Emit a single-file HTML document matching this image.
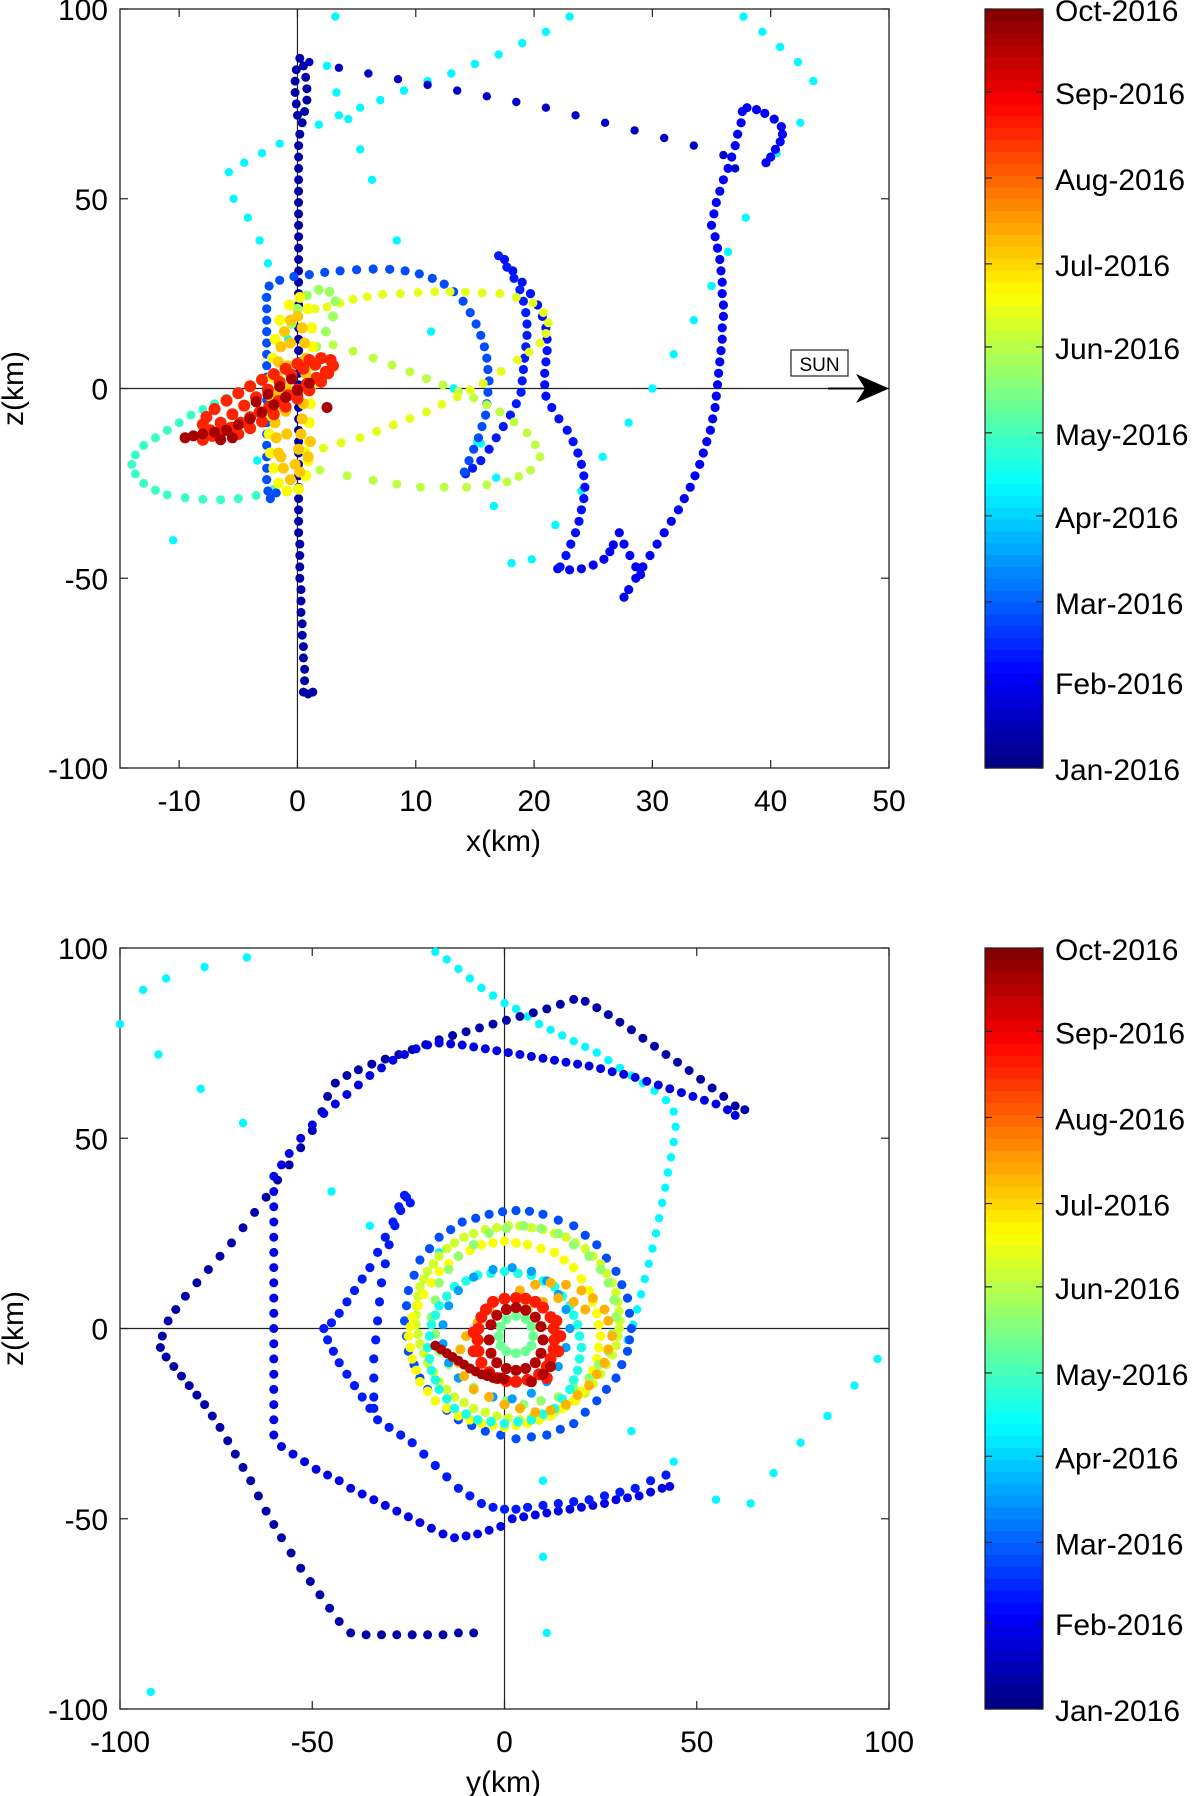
<!DOCTYPE html>
<html><head><meta charset="utf-8"><style>
body{margin:0;background:#fff;width:1200px;height:1796px;overflow:hidden}
svg{position:absolute;left:0;top:0}
text{font-family:"Liberation Sans",sans-serif;fill:#000}
</style></head><body>
<svg id="fig" width="1200" height="1796"></svg>
<script>
// ---------- data (km) ----------
const topNavyVertical=[[1.3,-80],[0.9,-80.5],[0.5,-80],[0.6,-77],[0.6,-74],[0.5,-71],[0.5,-68],[0.4,-65],[0.4,-62],[0.3,-59],[0.3,-56],[0.3,-53],[0.2,-50],[0.2,-47],[0.2,-44],[0.2,-41],[0.1,-38],[0.1,-35],[0.1,-32],[0.1,-29],[0.1,-26],[0.1,-23],[0.1,-20],[0.1,-17],[0.1,-14],[0.1,-11],[0.1,-8],[0.1,-5],[0.1,-2],[0.1,1],[0.1,4],[0.1,7],[0.1,10],[0.1,13],[0.1,16],[0.1,19],[0.1,22],[0.1,25],[0.1,28],[0.1,31],[0.1,34],[0.1,37],[0.1,40],[0.1,43],[0.1,46],[0.1,49],[0.1,52],[0.1,55],[0.1,58],[0.1,61],[0.1,64],[0.2,67],[0.4,70],[0.6,73],[0.8,76],[0.8,79],[0.7,82],[0.5,85],[0.2,87],[-0.1,84],[-0.2,81],[-0.2,78],[-0.1,75],[0,72]];
const topNavySparse=[[1,86],[3.5,84.5],[6,83],[8.5,81.5],[11,80],[13.5,78.5],[16,77],[18.5,75.5],[21,74],[23.5,72],[26,70],[28.5,68],[31,66],[33.5,64],[36,61.5],[37,58]];
const topBlueRight=[[38,74],[38.8,73.5],[39.5,72.5],[40.3,71],[40.9,69],[41,67],[40.8,65],[40.4,63],[40,61],[39.6,59.5],[37.6,73],[37.5,70],[37.2,67],[37,64],[36.7,61],[36.4,58],[36,55],[35.7,52],[35.4,49],[35.2,46],[35,43],[35.3,40],[35.5,37],[35.7,34],[35.8,31],[35.9,28],[35.9,25],[36,22],[36,19],[35.9,16],[35.9,13],[35.8,10],[35.7,7],[35.6,4],[35.5,1],[35.4,-2],[35.3,-5],[35.1,-8],[34.9,-11],[34.6,-14],[34.3,-17],[34,-20],[33.6,-23],[33.2,-26],[32.7,-29],[32.2,-32],[31.6,-35],[31,-38],[30.4,-41],[29.8,-44],[29.2,-47],[28.6,-50],[28,-53],[27.6,-55],[27.2,-38],[27.6,-41],[28.1,-44],[28.6,-47],[29,-49]];
const topBlueHook=[[22,-47.5],[23,-47.8],[24,-47.5],[25,-46.5],[25.9,-45],[26.4,-43],[26.7,-41.2]];
const topBlueStrandR=[[17.5,34],[18.2,31],[19,28],[19.7,25],[20.3,22],[20.7,19],[21,16],[21.1,13],[21.1,10],[21,7],[20.9,4],[20.9,1],[21,-2],[21.5,-5],[22.1,-8],[22.8,-11],[23.3,-14],[23.7,-17],[24,-20],[24.2,-23],[24.3,-26],[24.2,-29],[24,-32],[23.8,-35],[23.5,-38],[23.1,-41],[22.7,-44],[22.2,-47]];
const topBlueStrandL=[[17,35],[17.7,32],[18.3,29],[18.8,26],[19.1,23],[19.3,20],[19.4,17],[19.4,14],[19.3,11],[19.2,8],[19.1,5],[19,2],[18.9,-1],[18.5,-4],[18,-7],[17.4,-10],[16.8,-13],[16.2,-16],[15.5,-19],[14.8,-21],[14.2,-22.5]];
const topBlueArc=[[-2.5,-27],[-2.6,-24],[-2.6,-21],[-2.6,-18],[-2.6,-15],[-2.6,-12],[-2.6,-9],[-2.6,-6],[-2.6,-3],[-2.6,0],[-2.6,3],[-2.6,6],[-2.6,9],[-2.6,12],[-2.6,15],[-2.6,18],[-2.6,21],[-2.6,24],[-2.4,27],[-1.5,28.5],[-0.3,29.5],[1,30],[2.3,30.6],[3.6,31],[5,31.3],[6.4,31.5],[7.8,31.4],[9.1,31],[10.3,30.2],[11.4,29],[12.4,27.5],[13.2,25.5],[14,23],[14.6,20],[15.1,17],[15.5,14],[15.8,11],[16,8],[16.1,5],[16.2,2],[16.1,-1],[16,-4],[15.9,-7],[15.6,-10],[15.3,-13],[14.9,-16],[14.5,-19],[14.1,-22],[-2.3,-29],[-1.8,-27.5]];
const topYellowUpper=[[1.5,21],[2.5,21.5],[3.6,22.5],[4.7,23.5],[5.9,24.2],[7.2,24.8],[8.7,25],[10.2,25.3],[11.6,25.5],[12.9,25.5],[14.2,25.4],[15.6,25.2],[17.1,25],[18.5,24],[19.9,22.5],[20.8,20],[21.2,17.3],[21,14.5],[20.5,12],[19.6,9.6],[18.6,7.5],[17.2,4.5],[15.7,1.4],[14.6,-0.4],[13.5,-2.2],[12.2,-4.2],[10.9,-6.2],[9.5,-7.9],[8.1,-9.6],[6.7,-11.3],[5.3,-13],[3.7,-14.3],[2.2,-15.7],[0.7,-16.5]];
const topYGLower=[[3,11.5],[4.7,9.8],[6.4,8],[8,6.2],[9.5,4.4],[10.9,2.6],[12.3,0.9],[13.6,-0.8],[14.9,-2.5],[16,-4.3],[17.1,-6.2],[18.3,-8.8],[19.4,-11.7],[20.1,-14.8],[20.5,-18],[19.7,-21.5],[18.7,-23.2],[17.7,-24.6],[16,-25.4],[14.3,-26],[12.4,-26],[10.4,-26],[8.4,-25.2],[6.4,-24.2],[4.2,-23],[1.9,-21.5]];
const topGreenEllipse=[[-1,5],[-2,3.5],[-3,2],[-4,0.5],[-5,-1],[-6,-2.5],[-7,-4],[-8,-5.5],[-9,-7],[-10,-9],[-11,-11],[-12,-13],[-13,-15],[-13.7,-17.5],[-14,-20],[-13.7,-22.5],[-13,-25],[-12,-26.8],[-11,-28],[-9.5,-28.8],[-8,-29.2],[-6.5,-29.3],[-5,-29],[-3.5,-28.2],[-2,-26.5]];
const topCyanSparse=[[-5.8,57],[-4.5,59.5],[-3,62],[-1.5,64.5],[0.2,67],[1.8,69.5],[3.5,72],[5.3,74],[7,76],[9,78.5],[11,81],[13,83],[15,85.5],[17,88],[19,91],[21,94],[23,98],[-5.4,50],[-4.2,45],[-3.2,39],[-2.5,33],[3.2,98],[2.5,85],[3.3,78],[4.3,71],[5.3,63],[6.3,55],[8.4,39],[11.3,15],[13.2,0],[15.2,-14],[16.6,-31],[18.1,-46],[19.8,-45],[37.7,98],[39.3,94],[40.8,90],[42.3,86],[43.6,81],[42.5,70],[40.5,62],[37.9,45],[36.4,36],[35,27],[33.5,18],[31.8,9],[30,0],[28,-9],[25.8,-18],[24,-27],[21.8,-36],[-10.5,-40],[-3.4,-19],[-2.7,24],[-0.8,13],[16.8,-23.5],[15.5,-14.5]];
const topOrangeLoops=[[-0.6,-24],[-1.2,-21],[-1.6,-17],[-1.8,-13],[-1.9,-9],[-1.9,-5],[-1.8,-1],[-1.7,3],[-1.6,7],[-1.4,11],[-1.1,15],[-0.6,18],[0,19],[0.4,16],[0.6,12],[0.7,8],[0.7,4],[0.6,0],[0.5,-4],[0.4,-8],[0.3,-12],[0.1,-16],[-0.2,-20],[-0.9,-12],[-1,-6],[-0.9,0],[-0.8,6],[-0.6,12],[-1.4,-18],[0.2,-22],[0.9,-18],[1.1,-14]];
const topYellowLoops=[[-0.9,-27],[-1.6,-25],[-2,-21],[-2.3,-17],[-2.4,-12],[-2.4,-7],[-2.3,-2],[-2.2,3],[-2.1,8],[-1.9,13],[-1.5,18],[-0.7,22],[0.2,24],[0.9,21],[1.2,16],[1.3,11],[1.3,6],[1.2,1],[1.1,-4],[1,-9],[1,-14],[0.9,-19],[0.7,-23],[0.1,-26.5]];
const topYGLoop=[[-0.5,17],[0,21],[0.8,24.5],[1.8,26],[2.7,25.5],[3.2,23],[3,19],[2.4,15],[1.6,11],[0.6,8]];
const topRedBand=[[-8,-13.5],[-7.2,-12.5],[-6.4,-11.5],[-5.6,-10.3],[-4.8,-9],[-4,-7.6],[-3.2,-6.2],[-2.4,-4.8],[-1.6,-3.3],[-0.8,-1.8],[0,-0.3],[0.8,1.2],[1.6,2.8],[2.4,4.4],[3,6],[2.8,7.5],[2,8],[1,7.5],[0,6.5],[-1,5.2],[-2,3.8],[-3,2.3],[-4,0.6],[-5,-1.2],[-6,-3.2],[-7,-5.4],[-7.7,-7.5],[-8,-9.5],[-7.4,-11],[-6.5,-9],[-5.5,-6.8],[-4.5,-4.5],[-3.5,-2.3],[-2.5,-0.3],[-1.5,1.7],[-0.5,3.6],[0.5,5.2],[1.5,6.3],[-5,-12],[-4,-10.5],[-3,-8.7],[-2,-6.8],[-1,-4.8],[0,-2.7],[1,-0.5],[2,1.8],[2.6,4]];
const topDarkRedBand=[[-9.5,-13],[-8.8,-12.5],[-8,-12],[-7,-11.5],[-6,-11],[-5,-9.5],[-4,-8],[-3,-6.3],[-2,-4.3],[-1,-2.3],[0,-0.5],[1,1.4],[-3.5,-3.5],[-2.5,-1.5],[-1.5,0.5],[-0.5,2.5],[2.5,-5],[-6.5,-13.5],[-5.5,-13]];

const botNavyHex=[[-8,-80],[-12,-80],[-16,-80.5],[-20,-80.5],[-24,-80.5],[-28,-80.5],[-32,-80.5],[-36,-80.5],[-40,-80],[-43,-77],[-45.5,-73.5],[-48,-70],[-50.5,-66.5],[-53,-63],[-55.5,-59],[-58,-55],[-60,-51.5],[-62,-48],[-64,-44],[-66,-40],[-68,-36.5],[-70,-33],[-72,-29.5],[-74,-26],[-76,-23],[-78,-20],[-80,-17.5],[-82,-15],[-84,-12.5],[-86,-10],[-88,-7.5],[-89.5,-5],[-89,-2],[-87.5,2],[-85.5,5],[-83,8.5],[-80,12],[-77,15.5],[-74,19],[-71,22.5],[-68,26.5],[-65,30.5],[-62,34.5],[-59,39],[-56,43],[-53,47.5],[-50,52],[-47.5,57],[-46,61],[-44,64.5],[-41,66.5],[-38,68],[-34.5,69.5],[-31,70.8],[-27.5,72],[-24,73.3],[-20.5,74.6],[-17,75.9],[-13.5,77],[-10,78],[-6.5,79],[-3,80],[0.5,81],[4,82],[7.5,83],[11,84],[14.5,85.2],[18,86.5],[21,86],[24,84.3],[27,82.5],[30,80.5],[33,78.5],[36,76.3],[39,74.2],[42,72],[45,70],[48,67.8],[51,65.5],[54,63.2],[57,61],[60,58.5],[62.5,57.5]];
const botBlueHex=[[-60,40],[-60,36],[-60,32],[-60,28],[-60,24],[-60,20],[-60,16],[-60,12],[-60,8],[-60,4],[-60,0],[-60,-4],[-60,-8],[-60,-12],[-60,-16],[-60,-20],[-60,-24],[-60,-28],[-58,-31],[-55,-33],[-52,-35],[-49,-37],[-46,-38.5],[-43,-40],[-40,-42],[-37,-43.5],[-34,-45],[-31,-46.5],[-28,-48],[-25,-49.5],[-22,-51],[-19,-52.5],[-16,-54],[-13,-55],[-10,-54.5],[-7,-54],[-4,-53],[-1,-52],[2,-50],[5,-49.5],[8,-49],[11,-48.5],[14,-48],[17,-47.5],[20,-47],[23,-46.5],[26,-46],[29,-45],[32,-44.5],[35,-44],[38,-43],[41,-42],[43,-41.5],[-58,43],[-56,46],[-53,50],[-50,53.5],[-47,56.5],[-44,59],[-41,61.5],[-38,64],[-35,66.5],[-32,68.5],[-29,70.5],[-26,72],[-23,73.5],[-20,74.5],[-17,75],[-14,74.8],[-11,74.5],[-8,74],[-5,73.5],[-2,73],[1,72.5],[4,72],[7,71.5],[10,71],[13,70.5],[16,70],[19,69.5],[22,69],[25,68.3],[28,67.5],[31,66.8],[34,66],[37,65],[40,64],[43,63],[46,62],[49,61],[52,60],[55,59],[58,57.5],[60,56]];
const botBlueV=[[-26,35],[-27,31],[-28.5,27],[-30,22],[-31,17],[-32,12],[-32.5,7],[-33,2],[-33.5,-3],[-34,-8],[-34,-13],[-34,-18],[-34,-21],[-24.5,33],[-25.5,34.5],[-27.5,32],[-29,28],[-31,24],[-33,20],[-35,16],[-37,13],[-39,10],[-41,7],[-43,4],[-45,1.5],[-47,0],[-46,-3],[-44.5,-6],[-43,-9],[-41,-12],[-39,-15],[-37,-18],[-35,-21],[-33,-24],[-30,-26],[-27,-28],[-24,-30],[-21,-33],[-18,-36],[-15,-39],[-12,-42],[-9,-44],[-6,-46],[-3,-47],[0,-47.5],[3,-47.5],[6,-47],[10,-46.5],[14,-46],[18,-45.5],[22,-45],[26,-44],[30,-43],[34,-42],[38,-40],[42,-38.5]];
const botBlueRing=[[33,0],[32.5,4],[32,8],[30.5,11.5],[29,15],[26.5,18.5],[24,22],[21,24.5],[18,27],[14,28.5],[10,30],[6.5,30.8],[3,31],[-0.5,30.7],[-4,30],[-7.5,29],[-11,28],[-14,26],[-17,24],[-19.5,21],[-22,18],[-23.5,14],[-25,10],[-25.5,6],[-26,2],[-25.5,-2],[-25,-6],[-23.5,-9.5],[-22,-13],[-20,-16],[-18,-19],[-15,-21.5],[-12,-24],[-8.5,-25.5],[-5,-27],[-1,-28],[3,-29],[7,-28.5],[11,-28],[14.5,-26.5],[18,-25],[21,-22],[24,-19],[26.5,-16],[29,-13],[30.5,-9.5],[32,-6],[32.5,-3]];
const botYellowRing=[[25,-2],[24.5,1],[24,4],[23,7],[22,10],[20,13],[18,16],[15.5,18],[13,20],[9.5,21],[6,22],[3,22.5],[0,23],[-3,22.5],[-6,22],[-9,20.5],[-12,19],[-14.5,17],[-17,15],[-19,12],[-21,9],[-22.5,6],[-24,3],[-24.5,0.5],[-25,-2],[-24.5,-5],[-24,-8],[-23,-11],[-22,-14],[-20,-16.5],[-18,-19],[-15,-21],[-12,-23],[-9,-24],[-6,-25],[-3,-25.5],[0,-26],[3,-25.5],[6,-25],[9,-24],[12,-23],[15,-21],[18,-19],[20,-16.5],[22,-14],[23,-11],[24,-8],[24.5,-5]];
const botYellowRing2=[[30,2],[29.8,4.5],[29.5,7],[29,9.5],[28,12],[26.5,14.5],[25,17],[23,19],[21,21],[18.5,22.5],[16,24],[13,25],[10,26],[7,26.5],[4,27],[1,27],[-2,26.5],[-5,26],[-8,25],[-10.5,24],[-13,22.5],[-15,21],[-17,19],[-18.5,17],[-20,15],[-21,13],[-22,11],[-22.5,8.5],[-23,6],[-23,3.5],[-23,1],[-22.5,-1.5],[-22,-4],[-21,-6.5],[-20,-9],[-18.5,-11.5],[-17,-14],[-15,-16],[-13,-18],[-10.5,-19.5],[-8,-21],[-5,-22],[-2,-23],[1,-23.5],[4,-24],[7,-23.5],[10,-23],[13,-22],[16,-20.5],[18.5,-19],[21,-17],[23,-14.5],[25,-12],[26.5,-9.5],[28,-7],[29,-4.5],[29.5,-2],[29.8,0]];
const botGreenRing=[[29,3],[28.5,7.5],[27,12],[25,15.5],[22,19],[18,22],[14,25],[9.5,26.3],[5,27],[0.5,26.3],[-4,25],[-8,22],[-12,19],[-14.5,15.5],[-17,12],[-18,7.5],[-19,3],[-18,-1.5],[-17,-6],[-14.5,-9.5],[-12,-13],[-8,-15.5],[-4,-18],[0.5,-19],[5,-20],[9.5,-19],[14,-18],[18,-15.5],[22,-13],[24.5,-9.5],[27,-6],[28,-1.5]];
const botCyanRing=[[20,-5],[19.5,-2],[19,1],[18,3.5],[17,6],[15,8.5],[13,11],[10,12.5],[7,14],[3.5,14.5],[0,15],[-3.5,14.5],[-7,14],[-10,12.5],[-13,11],[-15,8.5],[-17,6],[-18,3.5],[-19,1],[-19.5,-2],[-20,-5],[-19.5,-8],[-19,-11],[-18,-13.5],[-17,-16],[-15,-18.5],[-13,-21],[-10,-22.5],[-7,-24],[-3.5,-24.5],[0,-25],[3.5,-24.5],[7,-24],[10,-22.5],[13,-21],[15,-18.5],[17,-16],[18,-13.5],[19,-11],[19.5,-8]];
const botMidBlueRing=[[17,0],[16,5],[14,9],[11,12.5],[7,15],[2,16],[-3,15.5],[-8,13.5],[-12,10],[-14.5,6],[-16,1],[-16,-4],[-14.5,-9],[-12,-13],[-8,-16],[-3,-18],[2,-18.5],[7,-17],[11,-14],[14,-10],[16,-5]];
const botOrangeEllipse=[[28,-2],[27,2],[26,5],[23,8],[20,10],[16,11.5],[12,12],[8,11.5],[4,10],[0,8],[-4,5],[-7,1.5],[-10,-2],[-11.5,-5.5],[-12,-9],[-10.5,-12.5],[-8,-16],[-4,-18],[0,-20],[4,-21],[8,-22],[12,-21.5],[16,-20],[19,-17.5],[22,-15],[24,-12],[26,-9],[27,-5.5],[6,5],[10,7],[14,8],[18,7],[21,5]];
const botRedRing=[[13,-3],[12.8,0],[12,3],[10,5.5],[8,7],[5.5,7.8],[3,8],[0,7.8],[-3,7],[-4.8,5],[-6,3],[-6.8,0],[-7,-3],[-6.8,-6],[-6,-9],[-4,-11.5],[-2,-13],[0.5,-13.8],[3,-14],[6,-13.5],[9,-12],[11,-10],[12,-8],[12.8,-5.5],[14,-6],[14.5,-2],[13.5,2],[11,-13],[-8,-1],[-8,-6]];
const botDarkRedRing=[[10,-3],[9.5,0.5],[8,3],[5.5,4.8],[3,5.5],[0.5,5],[-2,3.5],[-3.5,1],[-4,-3],[-3.5,-6.5],[-2,-9],[0.5,-10.5],[3,-11],[5.5,-10.5],[8,-9],[9.5,-6.5],[12,-10],[10,-12],[7,-14],[-1,-13],[-4,-12]];
const botGreenInner=[[7.5,-2],[7,0.5],[5.5,2.5],[3,3.3],[0.5,2.5],[-1,0.5],[-1.5,-2],[-1,-4.5],[0.5,-6],[3,-6.5],[5.5,-6],[7,-4.5]];
const botDarkRedTail=[[-18,-4.5],[-16.5,-5.5],[-15,-6.5],[-13.5,-7.5],[-12,-8.5],[-10.5,-9.5],[-9,-10.5],[-7.5,-11.3],[-6,-12],[-4.5,-12.5],[-3,-13],[-1.5,-13.2],[0,-13.3]];
const botCyanSparse=[[-100,80],[-94,89],[-88,92],[-78,95],[-67,97.5],[-90,72],[-79,63],[-68,54],[-45,36],[-35,27],[-17,20],[-18,99],[-15,97],[-12,94.5],[-9,92],[-6,89.5],[-3,87.5],[0,85.5],[3,84],[6,82],[9,80],[12,78.5],[15,77],[18,75.5],[21,74],[24,72.5],[27,70.5],[30,68.5],[33,66.5],[36,64.5],[39,62.5],[42,60],[44,57],[44.5,53],[44,49],[43.3,45],[42.5,41],[41.8,37],[41,33],[40.2,29],[39.4,25],[38.5,21],[37.5,17],[36.5,13],[35.5,9],[34.5,5],[33.5,1],[32,-3],[33,-27],[44,-35],[10,-40],[10,-60],[11,-80],[-92,-95.5],[55,-45],[64,-46],[70,-38],[77,-30],[84,-23],[91,-15],[97,-8]];

const cbarMonths=["Jan-2016","Feb-2016","Mar-2016","Apr-2016","May-2016","Jun-2016","Jul-2016","Aug-2016","Sep-2016","Oct-2016"];
const cbarDays=[0,31,60,91,121,152,182,213,244,274];
const topXTicks=[-10,0,10,20,30,40,50];
const zTicks=[-100,-50,0,50,100];
const botYTicks=[-100,-50,0,50,100];

const NS="http://www.w3.org/2000/svg";
const fig=document.getElementById('fig');
function el(tag,attrs,parent){const e=document.createElementNS(NS,tag);for(const k in attrs)e.setAttribute(k,attrs[k]);(parent||fig).appendChild(e);return e;}
function cl(v){return Math.max(0,Math.min(1,v));}
function jet(t){const r=cl(1.5-Math.abs(4*t-3)),g=cl(1.5-Math.abs(4*t-2)),b=cl(1.5-Math.abs(4*t-1));return `rgb(${Math.round(r*255)},${Math.round(g*255)},${Math.round(b*255)})`;}
const FS=30;
function makeAxes(name,L,T,R,B,xmin,xmax,zmin,zmax,xt,zt,xlabel){
  const sx=v=>L+(v-xmin)/(xmax-xmin)*(R-L);
  const sz=v=>T+(zmax-v)/(zmax-zmin)*(B-T);
  const g=el('g',{});
  
  
  el('rect',{x:L,y:T,width:R-L,height:B-T,fill:'#fff',stroke:'#222','stroke-width':1.3},g);
  const zl=el('line',{x1:L,x2:R,y1:sz(0),y2:sz(0),stroke:'#222','stroke-width':1.2},g);
  
  const xl=el('line',{x1:sx(0),x2:sx(0),y1:T,y2:B,stroke:'#222','stroke-width':1.2},g);
  
  xt.forEach(v=>{const x=sx(v);
    el('line',{x1:x,x2:x,y1:B,y2:B-8,stroke:'#222','stroke-width':1.2},g);
    el('line',{x1:x,x2:x,y1:T,y2:T+8,stroke:'#222','stroke-width':1.2},g);
    const t=el('text',{x:x,y:B+43,'font-size':FS,'text-anchor':'middle'},g);t.textContent=v;
    });
  zt.forEach(v=>{const y=sz(v);
    el('line',{x1:L,x2:L+8,y1:y,y2:y,stroke:'#222','stroke-width':1.2},g);
    el('line',{x1:R,x2:R-8,y1:y,y2:y,stroke:'#222','stroke-width':1.2},g);
    const t=el('text',{x:L-12,y:y+11,'font-size':FS,'text-anchor':'end'},g);t.textContent=v;
    });
  const xa=el('text',{x:(L+R)/2-1,y:B+83,'font-size':FS,'text-anchor':'middle'},g);xa.textContent=xlabel;
  
  const cy=(T+B)/2;
  const za=el('text',{x:23,y:cy,'font-size':FS,'text-anchor':'middle',transform:`rotate(-90 23 ${cy})`},g);za.textContent='z(km)';
  
  const pg=el('g',{},g);
  
  return {sx,sz,pg,L,T,R,B};
}
function plot(ax,pts,t,r,name){
  const col=jet(t);
  pts.forEach(p=>{const x=ax.sx(p[0]),y=ax.sz(p[1]);
    if(x<ax.L-1||x>ax.R+1||y<ax.T-1||y>ax.B+1)return;
    const c=el('circle',{cx:x.toFixed(1),cy:y.toFixed(1),r:r,fill:col},ax.pg);
    
    });
}
function colorbar(name,T,B){
  const L=985,R=1043;const g=el('g',{});
  
  const n=64;for(let i=0;i<n;i++){const y0=B-(i+1)/n*(B-T);
    el('rect',{x:L,y:y0,width:R-L,height:(B-T)/n+0.6,fill:jet((i+0.5)/n)},g);}
  el('rect',{x:L,y:T,width:R-L,height:B-T,fill:'none',stroke:'#222','stroke-width':1.2},g);
  const tot=cbarDays[cbarDays.length-1];
  cbarMonths.forEach((m,i)=>{const y=B-cbarDays[i]/tot*(B-T);
    el('line',{x1:L,x2:L+7,y1:y,y2:y,stroke:'#222','stroke-width':1.2},g);
    el('line',{x1:R,x2:R-7,y1:y,y2:y,stroke:'#222','stroke-width':1.2},g);
    const t=el('text',{x:1055,y:y+12,'font-size':FS},g);t.textContent=m;
    });
}

const A=makeAxes('xz-panel',120,9,889,768,-15,50,-100,100,topXTicks,zTicks,'x(km)');
plot(A,topCyanSparse,0.37,4.2,'cyan-point');
plot(A,topGreenEllipse,0.43,4.5,'green-point');
plot(A,topNavySparse,0.07,4.2,'navy-point');
plot(A,topNavyVertical,0.04,4.5,'navy-point');
plot(A,topBlueRight,0.12,4.6,'blue-point');
plot(A,topBlueHook,0.12,4.6,'blue-point');
plot(A,topBlueStrandR,0.14,4.6,'blue-point');
plot(A,topBlueStrandL,0.15,4.6,'blue-point');
plot(A,topBlueArc,0.2,4.6,'blue-point');
plot(A,topYGLower,0.56,4.5,'yellowgreen-point');
plot(A,topYellowUpper,0.6,4.5,'yellow-point');
plot(A,topYGLoop,0.53,5,'yellowgreen-point');
plot(A,topYellowLoops,0.62,5.5,'yellow-point');
plot(A,topOrangeLoops,0.68,5.5,'orange-point');
plot(A,topRedBand,0.84,6,'red-point');
plot(A,topDarkRedBand,0.96,5.5,'darkred-point');
const sg=el('g',{});
el('rect',{x:791,y:350,width:57,height:26,fill:'#fff',stroke:'#222','stroke-width':1.2},sg);
const st=el('text',{x:819.5,y:371,'font-size':19,'text-anchor':'middle'},sg);st.textContent='SUN';

el('line',{x1:828,x2:870,y1:388.5,y2:388.5,stroke:'#000','stroke-width':2},sg);
el('path',{d:'M889,388.5 L856,374 L865,388.5 L856,403 Z',fill:'#000'},sg);
colorbar('colorbar-top',9,768);

const Bx=makeAxes('yz-panel',120,948,889,1709,-100,100,-100,100,botYTicks,zTicks,'y(km)');
plot(Bx,botCyanSparse,0.37,4.2,'cyan-point');
plot(Bx,botNavyHex,0.04,4.5,'navy-point');
plot(Bx,botBlueHex,0.1,4.5,'blue-point');
plot(Bx,botBlueV,0.15,4.6,'blue-point');
plot(Bx,botBlueRing,0.2,4.6,'blue-point');
plot(Bx,botYellowRing2,0.58,4.8,'yellow-point');
plot(Bx,botYellowRing,0.62,4.8,'yellow-point');
plot(Bx,botGreenRing,0.52,4.8,'green-point');
plot(Bx,botCyanRing,0.4,4.8,'cyan-point');
plot(Bx,botMidBlueRing,0.28,4.6,'blue-point');
plot(Bx,botOrangeEllipse,0.7,5,'orange-point');
plot(Bx,botGreenInner,0.48,5,'green-point');
plot(Bx,botRedRing,0.85,6,'red-point');
plot(Bx,botDarkRedRing,0.95,5.5,'darkred-point');
plot(Bx,botDarkRedTail,0.96,5,'darkred-point');
colorbar('colorbar-bottom',948,1709);
</script>
</body></html>
